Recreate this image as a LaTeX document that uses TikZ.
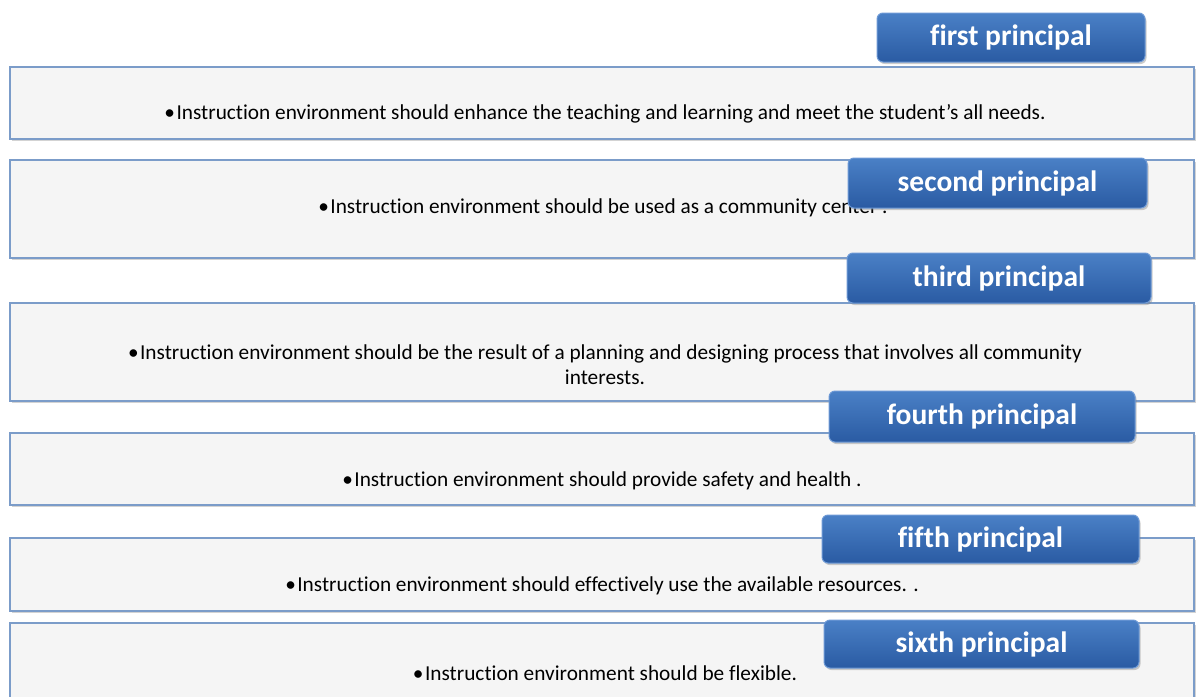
\documentclass[tikz,border=0pt]{standalone}
\usepackage{fontspec}
\setmainfont{Carlito}[Ligatures=NoCommon]
\usetikzlibrary{shadows}
\definecolor{boxfill}{HTML}{F5F5F5}
\definecolor{boxline}{HTML}{7B9CC9}
\definecolor{headtop}{HTML}{4A80C6}
\definecolor{headbot}{HTML}{2A5BA3}
\definecolor{headline}{HTML}{6E9AD6}
\tikzset{
	pbox/.style={draw=boxline, line width=1.4pt, fill=boxfill, inner sep=0pt,
		minimum width=1184, drop shadow={opacity=0.35, shadow xshift=1.5pt, shadow yshift=-2pt}},
	phead/.style={draw=headline, line width=1pt, rounded corners=6pt,
		top color=headtop, bottom color=headbot, text=white, inner sep=0pt,
		font=\bfseries\fontsize{29.5}{32}\selectfont,
		drop shadow={opacity=0.4, shadow xshift=1.5pt, shadow yshift=-2pt}},
	ptext/.style={font=\fontsize{21.3}{25}\selectfont, align=center, inner sep=0pt}
}
\newcommand{\bul}{\textbullet\hspace{1.5pt}}

\begin{document}
\begin{tikzpicture}[x=1pt,y=-1pt]
\useasboundingbox (0,0) rectangle (1198,696);

% text boxes
\node[pbox, minimum height=72] (b1) at (602,103) {};
\node[pbox, minimum height=98] (b2) at (602,209) {};
\node[pbox, minimum height=98] (b3) at (602,352) {};
\node[pbox, minimum height=72] (b4) at (602,469) {};
\node[pbox, minimum height=73] (b5) at (602,574.5) {};
\node[pbox, minimum height=98] (b6) at (602,672) {};

\node[ptext] (t1) at (605,114) {\bul Instruction environment should enhance the teaching and learning and meet the student’s all needs.};
\node[ptext] (t2) at (603,208) {\bul Instruction environment should be used as a community center .};
\node[ptext] (t3) at (605,364.5) {\bul Instruction environment should be the result of a planning and designing process that involves all community\\interests.};
\node[ptext] (t4) at (602,481) {\bul Instruction environment should provide safety and health .};
\node[ptext] (t5) at (602,586) {\bul Instruction environment should effectively use the available resources. .};
\node[ptext] (t6) at (605,673) {\bul Instruction environment should be flexible.};

% headers
\node[phead, minimum width=268, minimum height=49] (h1) at (1011,37.5) {first principal};
\node[phead, minimum width=299, minimum height=50] (h2) at (997.5,183) {second principal};
\node[phead, minimum width=304, minimum height=50] (h3) at (999,278) {third principal};
\node[phead, minimum width=306, minimum height=51] (h4) at (982,416.5) {fourth principal};
\node[phead, minimum width=317, minimum height=48] (h5) at (980.5,539) {fifth principal};
\node[phead, minimum width=315, minimum height=48] (h6) at (981.5,644) {sixth principal};
\end{tikzpicture}
\end{document}
